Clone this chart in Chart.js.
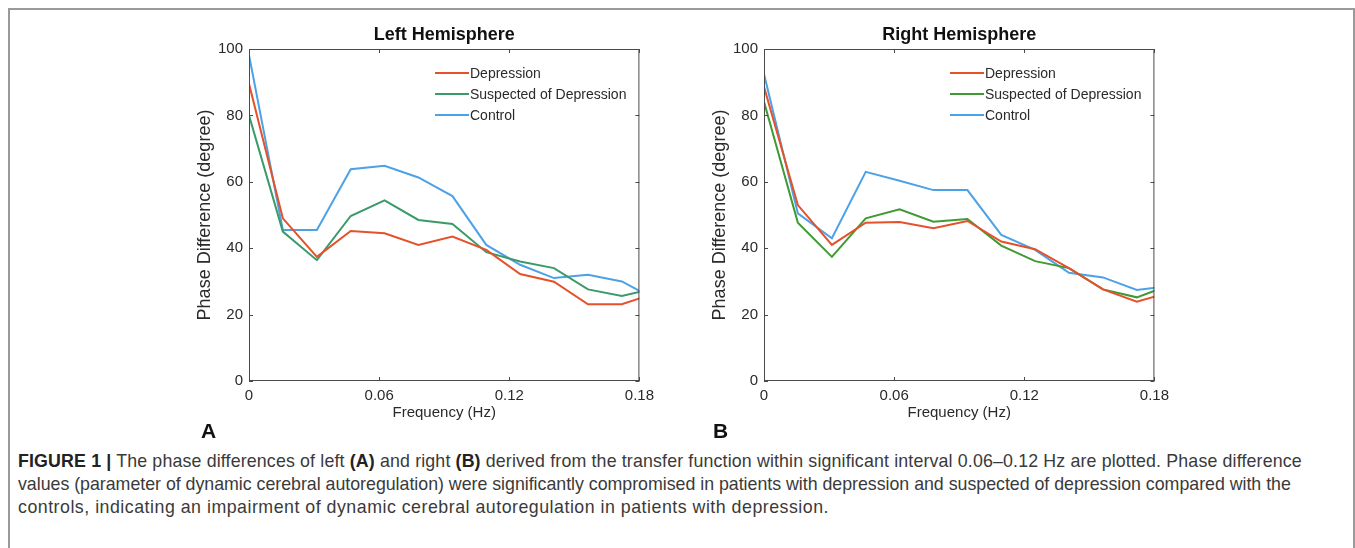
<!DOCTYPE html>
<html>
<head>
<meta charset="utf-8">
<script src="https://cdn.jsdelivr.net/npm/chart.js@4.4.0/dist/chart.umd.min.js"></script>
<style>
  body { margin: 0; background: #fff; width: 1355px; height: 548px; overflow: hidden; position: relative; }
  .frame { position: absolute; left: 8px; top: 8px; width: 1343px; height: 600px; border: 2px solid #9a9a9a; }
  .panel { position: absolute; top: 15px; width: 480px; height: 410px; }
  .tag { position: absolute; top: 419px; font: bold 21px "Liberation Sans", Arial, sans-serif; color: #111; }
  .cap { position: absolute; left: 18px; top: 450px; width: 1330px; font: 17.8px/23px "Liberation Sans", Arial, sans-serif; color: #3a3a3a; white-space: nowrap; }
  .cap b { color: #222; }
</style>
</head>
<body>
<div class="frame"></div>
<div class="panel" style="left:180px"><canvas id="leftChart" width="480" height="410"></canvas></div>
<div class="panel" style="left:695px"><canvas id="rightChart" width="480" height="410"></canvas></div>
<div class="tag" style="left:201px">A</div>
<div class="tag" style="left:713px">B</div>
<div class="cap"><span style="letter-spacing:0.15px"><b>FIGURE 1 |</b> The phase differences of left <b>(A)</b> and right <b>(B)</b> derived from the transfer function within significant interval 0.06–0.12 Hz are plotted. Phase difference</span><br><span style="letter-spacing:-0.02px">values (parameter of dynamic cerebral autoregulation) were significantly compromised in patients with depression and suspected of depression compared with the</span><br><span style="letter-spacing:0.5px">controls, indicating an impairment of dynamic cerebral autoregulation in patients with depression.</span></div>
<script>
// frequency bins (Hz), last one lies past the 0.18 axis end and gets clipped
const freq = [0, 0.0156, 0.0313, 0.0469, 0.0625, 0.0781, 0.0938, 0.1094, 0.125, 0.1406, 0.1563, 0.1719, 0.1875];
const xTicks = [0, 0.06, 0.12, 0.18];
const yTicks = [0, 20, 40, 60, 80, 100];
const seriesNames = ["Depression", "Suspected of Depression", "Control"];

const leftDepression = [89.5, 49, 37.4, 45.2, 44.5, 41, 43.5, 39.5, 32.2, 29.9, 23.1, 23.1, 26.5];
const leftSuspected  = [80, 45, 36.4, 49.7, 54.4, 48.5, 47.3, 38.8, 36, 34, 27.6, 25.6, 28];
const leftControl    = [98.2, 45.5, 45.5, 63.8, 64.8, 61.3, 55.7, 41, 35, 31, 32, 30, 24.5];

const rightDepression = [88.6, 53, 41, 47.7, 47.9, 46, 48.2, 42, 39.7, 34, 27.6, 23.9, 26.8];
const rightSuspected  = [84.1, 47.7, 37.4, 49, 51.7, 48, 48.8, 40.8, 36.1, 34, 27.6, 25.2, 29];
const rightControl    = [92.5, 50.5, 43, 63, 60.3, 57.5, 57.5, 44, 39.5, 32.6, 31.2, 27.4, 28.7];

const red = "#e4512b";
const blue = "#4da1e6";
const fontFam = '"Liberation Sans", Arial, sans-serif';

function toPoints(vals) {
  return vals.map((v, i) => ({ x: freq[i], y: v }));
}

// matlab style box with inward ticks, title over the axes and legend inside them
const boxPlugin = {
  id: "box",
  afterDatasetsDraw(chart) {
    const ctx = chart.ctx;
    const a = chart.chartArea;
    const xs = chart.scales.x;
    const ys = chart.scales.y;
    ctx.save();
    ctx.strokeStyle = "#4a4a4a";
    ctx.lineWidth = 1;
    ctx.strokeRect(a.left + 0.5, a.top + 0.5, a.right - a.left - 1, a.bottom - a.top - 1);
    ctx.beginPath();
    xTicks.forEach((t) => {
      const px = Math.round(xs.getPixelForValue(t)) + 0.5;
      ctx.moveTo(px, a.bottom); ctx.lineTo(px, a.bottom - 4);
      ctx.moveTo(px, a.top); ctx.lineTo(px, a.top + 4);
    });
    yTicks.forEach((t) => {
      const py = Math.round(ys.getPixelForValue(t)) + 0.5;
      ctx.moveTo(a.left, py); ctx.lineTo(a.left + 4, py);
      ctx.moveTo(a.right, py); ctx.lineTo(a.right - 4, py);
    });
    ctx.stroke();

    // title
    ctx.fillStyle = "#111";
    ctx.font = "bold 18px " + fontFam;
    ctx.textAlign = "center";
    ctx.textBaseline = "middle";
    ctx.fillText(chart.options.plugins.box.title, (a.left + a.right) / 2, a.top - 14);

    // legend
    ctx.font = "14px " + fontFam;
    ctx.textAlign = "left";
    chart.data.datasets.forEach((ds, i) => {
      const y = a.top + 24 + i * 21;
      const x0 = a.left + 186;
      ctx.strokeStyle = ds.borderColor;
      ctx.lineWidth = 2;
      ctx.beginPath();
      ctx.moveTo(x0, y); ctx.lineTo(x0 + 34, y);
      ctx.stroke();
      ctx.fillStyle = "#2a2a2a";
      ctx.fillText(ds.label, x0 + 35, y + 1);
    });
    ctx.restore();
  },
};

function makeChart(id, title, dep, sus, con, green) {
  const ctx = document.getElementById(id).getContext("2d");
  return new Chart(ctx, {
    type: "line",
    data: {
      datasets: [
        { label: seriesNames[0], data: toPoints(dep), borderColor: red },
        { label: seriesNames[1], data: toPoints(sus), borderColor: green },
        { label: seriesNames[2], data: toPoints(con), borderColor: blue },
      ],
    },
    options: {
      responsive: false,
      animation: false,
      layout: { padding: { left: 0, right: 20, top: 34, bottom: 0 } },
      elements: {
        line: { borderWidth: 2, tension: 0, fill: false },
        point: { radius: 0 },
      },
      plugins: {
        legend: { display: false },
        tooltip: { enabled: false },
        title: { display: false },
        box: { title: title },
      },
      scales: {
        x: {
          type: "linear",
          min: 0,
          max: 0.18,
          afterBuildTicks: (s) => { s.ticks = xTicks.map((v) => ({ value: v })); },
          afterFit: (s) => { s.height = 44; },
          grid: { display: false, drawTicks: false },
          border: { display: false },
          ticks: {
            color: "#2a2a2a",
            padding: 6,
            maxRotation: 0,
            font: { family: fontFam, size: 15 },
            callback: (v) => String(v),
          },
          title: {
            display: true,
            text: "Frequency (Hz)",
            color: "#2a2a2a",
            font: { family: fontFam, size: 15 },
            padding: { top: 0, bottom: 3 },
          },
        },
        y: {
          min: 0,
          max: 100,
          afterBuildTicks: (s) => { s.ticks = yTicks.map((v) => ({ value: v })); },
          afterFit: (s) => { s.width = 69; },
          grid: { display: false, drawTicks: false },
          border: { display: false },
          ticks: {
            color: "#2a2a2a",
            padding: 6,
            font: { family: fontFam, size: 15 },
          },
          title: {
            display: true,
            text: "Phase Difference (degree)",
            color: "#2a2a2a",
            font: { family: fontFam, size: 18 },
            padding: { top: 14, bottom: 0 },
          },
        },
      },
    },
    plugins: [boxPlugin],
  });
}

makeChart("leftChart", "Left Hemisphere", leftDepression, leftSuspected, leftControl, "#3b9a6a");
makeChart("rightChart", "Right Hemisphere", rightDepression, rightSuspected, rightControl, "#3f9a33");
</script>
</body>
</html>
